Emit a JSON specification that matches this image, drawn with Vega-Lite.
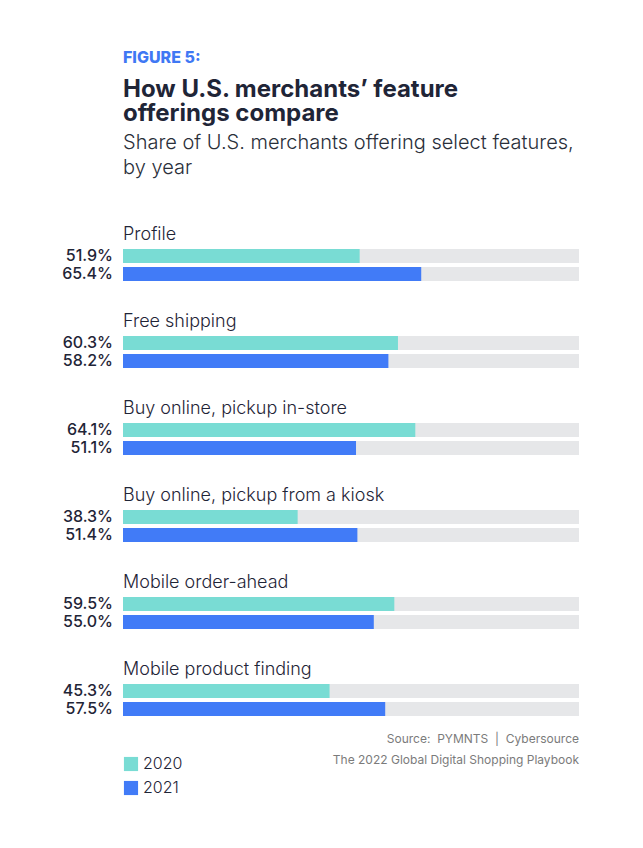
{
  "$schema": "https://vega.github.io/schema/vega-lite/v6.json",
  "background": "white",
  "padding": {"left": 62, "top": 49, "right": 10, "bottom": 10},
  "config": {
    "font": "Inter",
    "view": {"stroke": null}
  },
  "title": {
    "text": "FIGURE 5:",
    "subtitle": ["How U.S. merchants’ feature", "offerings compare"],
    "anchor": "start",
    "frame": "group",
    "color": "#3f78f4",
    "fontSize": 16,
    "fontWeight": 800,
    "subtitleFontSize": 24,
    "subtitleFontWeight": 700,
    "subtitleColor": "#1f2537",
    "subtitleLineHeight": 24.5,
    "subtitlePadding": 12,
    "offset": 7
  },
  "vconcat": [
    {
      "title": {
        "text": ["Share of U.S. merchants offering select features,", "by year"],
        "anchor": "start",
        "frame": "group",
        "fontSize": 20,
        "fontWeight": 300,
        "color": "#2a2f3a",
        "lineHeight": 25,
        "offset": 48
      },
      "vconcat": [
        {
          "title": {
            "text": ["Source:\u00a0\u00a0PYMNTS\u00a0\u00a0|\u00a0\u00a0Cybersource", "The 2022 Global Digital Shopping Playbook"],
            "orient": "bottom",
            "anchor": "end",
            "fontSize": 12,
            "fontWeight": 400,
            "color": "#7b7b7b",
            "lineHeight": 21,
            "offset": 17
          },
          "data": {
            "values": [
              {"feature": "Profile", "year": "2020", "value": 0.519},
              {"feature": "Profile", "year": "2021", "value": 0.654},
              {"feature": "Free shipping", "year": "2020", "value": 0.603},
              {"feature": "Free shipping", "year": "2021", "value": 0.582},
              {"feature": "Buy online, pickup in-store", "year": "2020", "value": 0.641},
              {"feature": "Buy online, pickup in-store", "year": "2021", "value": 0.511},
              {"feature": "Buy online, pickup from a kiosk", "year": "2020", "value": 0.383},
              {"feature": "Buy online, pickup from a kiosk", "year": "2021", "value": 0.514},
              {"feature": "Mobile order-ahead", "year": "2020", "value": 0.595},
              {"feature": "Mobile order-ahead", "year": "2021", "value": 0.55},
              {"feature": "Mobile product finding", "year": "2020", "value": 0.453},
              {"feature": "Mobile product finding", "year": "2021", "value": 0.575}
            ]
          },
          "facet": {
            "row": {
              "field": "feature",
              "type": "nominal",
              "sort": ["Profile", "Free shipping", "Buy online, pickup in-store", "Buy online, pickup from a kiosk", "Mobile order-ahead", "Mobile product finding"],
              "header": {
                "title": null,
                "labelOrient": "top",
                "labelAngle": 0,
                "labelAnchor": "start",
                "labelAlign": "left",
                "labelFontSize": 18,
                "labelFontWeight": 300,
                "labelColor": "#1f2537",
                "labelPadding": -14
              }
            }
          },
          "spacing": 31,
          "spec": {
            "width": 456,
            "height": 32,
            "encoding": {
              "y": {
                "field": "year",
                "type": "nominal",
                "axis": null,
                "scale": {"paddingInner": 0.22, "paddingOuter": 0}
              }
            },
            "layer": [
              {
                "mark": {"type": "bar", "color": "#e6e7e9"},
                "encoding": {
                  "x": {"datum": 0, "type": "quantitative", "scale": {"domain": [0, 1]}, "axis": null},
                  "x2": {"datum": 1}
                }
              },
              {
                "mark": {"type": "bar"},
                "encoding": {
                  "x": {"field": "value", "type": "quantitative", "scale": {"domain": [0, 1]}, "axis": null},
                  "color": {
                    "field": "year",
                    "type": "nominal",
                    "scale": {"domain": ["2020", "2021"], "range": ["#79dcd4", "#417bf7"]},
                    "legend": {
                      "title": null,
                      "orient": "bottom",
                      "direction": "vertical",
                      "symbolType": "square",
                      "symbolSize": 200,
                      "symbolStrokeWidth": 0,
                      "symbolOpacity": 1,
                      "labelFontSize": 16,
                      "labelFontWeight": 300,
                      "labelColor": "#1f2537",
                      "rowPadding": 8,
                      "offset": -10
                    }
                  }
                }
              },
              {
                "mark": {"type": "text", "align": "right", "baseline": "middle", "dx": -10, "fontSize": 16, "fontWeight": 500, "color": "#1f2537"},
                "encoding": {
                  "x": {"datum": 0, "type": "quantitative"},
                  "text": {"field": "value", "type": "quantitative", "format": ".1%"}
                }
              }
            ]
          }
        }
      ]
    }
  ]
}
